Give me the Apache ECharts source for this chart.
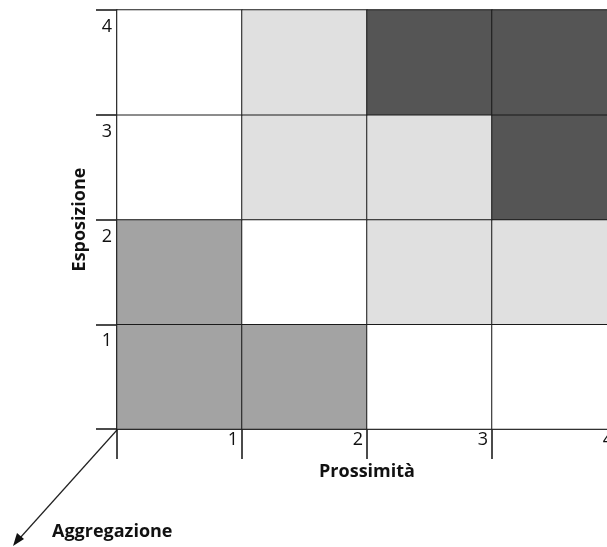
<!DOCTYPE html>
<html>
<head>
<meta charset="utf-8">
<style>
  html, body { margin: 0; padding: 0; background: #fff; }
  #chart { width: 607px; height: 547px; }
</style>
<script src="https://cdn.jsdelivr.net/npm/echarts@6/dist/echarts.min.js"></script>
</head>
<body>
<div id="chart"></div>
<script>
// Categories
var prossimita = ['1', '2', '3', '4'];
var esposizione = ['1', '2', '3', '4'];
// Tick labels at the band boundaries
var tickLabels = [1, 2, 3, 4];
// Shading level per cell (0 = white, 1 = light, 2 = medium, 3 = dark), by Esposizione row, left to right
var livelloEsp1 = [2, 2, 0, 0];
var livelloEsp2 = [2, 0, 1, 1];
var livelloEsp3 = [0, 1, 1, 3];
var livelloEsp4 = [0, 1, 3, 3];
var righe = [livelloEsp1, livelloEsp2, livelloEsp3, livelloEsp4];

var data = [];
righe.forEach(function (row, yi) {
  row.forEach(function (v, xi) { data.push([xi, yi, v]); });
});

var FONT = '"Open Sans", "Noto Sans", sans-serif';
var chart = echarts.init(document.getElementById('chart'));
chart.setOption({
  animation: false,
  backgroundColor: '#fff',
  grid: { left: 117, top: 10, width: 500, height: 419, containLabel: false, outerBoundsMode: 'none' },
  visualMap: {
    show: false, type: 'piecewise', dimension: 2,
    pieces: [
      { value: 0, color: '#ffffff' },
      { value: 1, color: '#e0e0e0' },
      { value: 2, color: '#a3a3a3' },
      { value: 3, color: '#555555' }
    ]
  },
  xAxis: [
    { type: 'category', data: prossimita, axisLine: { show: false }, axisTick: { show: false },
      axisLabel: { show: false }, splitLine: { show: false } },
    { type: 'value', min: 0, max: 4, interval: 1, position: 'bottom',
      axisLine: { show: true, lineStyle: { color: '#111', width: 1.5 } },
      axisTick: { show: true, length: 30, lineStyle: { color: '#111', width: 1.5 } },
      splitLine: { show: false },
      axisLabel: {
        margin: 2, color: '#111', fontFamily: FONT, fontSize: 18, align: 'right', padding: [0, 4, 0, 0],
        showMaxLabel: true,
        formatter: function (v) { return tickLabels.indexOf(v) >= 0 ? String(v) : ''; }
      },
      name: 'Prossimità', nameLocation: 'middle', nameGap: 34,
      nameTextStyle: { fontFamily: FONT, fontSize: 18, fontWeight: 'bold', color: '#111', padding: [0, 0, 0, 0] }
    }
  ],
  yAxis: [
    { type: 'category', data: esposizione, axisLine: { show: false }, axisTick: { show: false },
      axisLabel: { show: false }, splitLine: { show: false } },
    { type: 'value', min: 0, max: 4, interval: 1, position: 'left',
      axisLine: { show: true, lineStyle: { color: '#111', width: 1.5 } },
      axisTick: { show: true, length: 21, lineStyle: { color: '#111', width: 1.5 } },
      splitLine: { show: false },
      axisLabel: {
        margin: 5, color: '#111', fontFamily: FONT, fontSize: 18, align: 'right', verticalAlign: 'top',
        padding: [8, 0, 0, 0], showMaxLabel: true,
        formatter: function (v) { return tickLabels.indexOf(v) >= 0 ? String(v) : ''; }
      },
      name: 'Esposizione', nameLocation: 'middle', nameGap: 28, nameRotate: 90,
      nameTextStyle: { fontFamily: FONT, fontSize: 18, fontWeight: 'bold', color: '#111' }
    }
  ],
  series: [{
    type: 'heatmap', xAxisIndex: 0, yAxisIndex: 0, data: data,
    itemStyle: { borderColor: '#1a1a1a', borderWidth: 1 },
    label: { show: false }, emphasis: { disabled: true }
  }],
  graphic: [
    { type: 'line', shape: { x1: 117, y1: 430, x2: 20, y2: 538 }, style: { stroke: '#222', lineWidth: 1.2 } },
    { type: 'polygon', shape: { points: [[13, 546], [24, 539], [17, 533]] }, style: { fill: '#111' } },
    { type: 'text', left: 52, top: 523, style: { text: 'Aggregazione', fontFamily: FONT, fontSize: 18, fontWeight: 'bold', fill: '#111' } }
  ]
});
</script>
</body>
</html>
